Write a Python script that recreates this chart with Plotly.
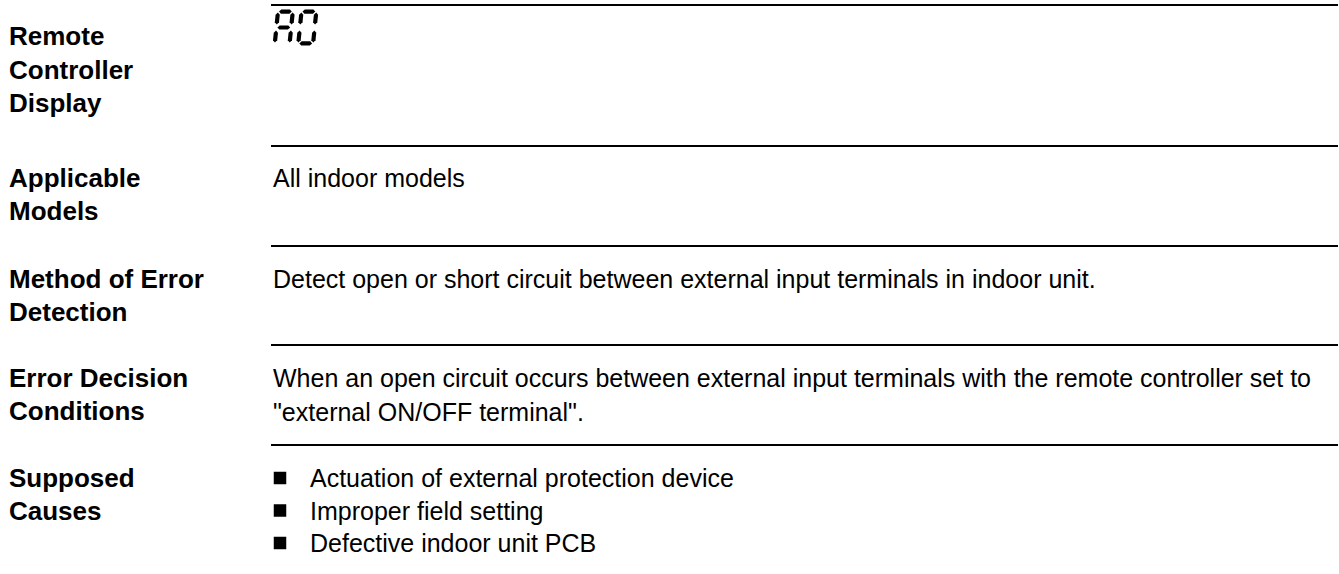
import plotly.graph_objects as go

# ---- content ----
row_labels = [
    ["Remote", "Controller", "Display"],
    ["Applicable", "Models"],
    ["Method of Error", "Detection"],
    ["Error Decision", "Conditions"],
    ["Supposed", "Causes"],
]
applicable_models = ["All indoor models"]
detection_method = ["Detect open or short circuit between external input terminals in indoor unit."]
decision_conditions = [
    "When an open circuit occurs between external input terminals with the remote controller set to",
    "\"external ON/OFF terminal\".",
]
supposed_causes = [
    "Actuation of external protection device",
    "Improper field setting",
    "Defective indoor unit PCB",
]
display_code = "A0"

# ---- layout constants (pixels) ----
W, H = 1339, 574
FS = 25
FS_BOLD = 26
LH = 33.5
FONT = "Arial, 'Liberation Sans', Helvetica, sans-serif"
label_x = 8
content_x = 272
rule_x0, rule_x1 = 271, 1338
rules_y = [5, 146, 246, 345, 445]
row_first_baseline = [45.5, 187, 288, 387, 487]

fig = go.Figure()
annotations = []
shapes = []


def put_text(x, baseline, text, bold=False):
    fs = FS_BOLD if bold else FS
    annotations.append(dict(
        x=x, y=baseline - 0.3465 * fs, xref="x", yref="y",
        text=("<b>%s</b>" % text) if bold else text,
        showarrow=False, xanchor="left", yanchor="middle",
        font=dict(family=FONT, size=fs, color="#000000"),
        borderpad=0,
    ))


for i, lines in enumerate(row_labels):
    for j, line in enumerate(lines):
        put_text(label_x, row_first_baseline[i] + j * LH, line, bold=True)

for j, line in enumerate(applicable_models):
    put_text(content_x, row_first_baseline[1] + j * LH, line)
for j, line in enumerate(detection_method):
    put_text(content_x, row_first_baseline[2] + j * LH, line)
for j, line in enumerate(decision_conditions):
    put_text(content_x, row_first_baseline[3] + j * LH, line)

bullet_text_x = 309
bx, by = [], []
for j, line in enumerate(supposed_causes):
    b = row_first_baseline[4] + j * 32.5
    put_text(bullet_text_x, b, line)
    bx.append(280)
    by.append(b - 9)

fig.add_trace(go.Scatter(
    x=bx, y=by, mode="markers",
    marker=dict(symbol="square", size=12.5, color="#000000", line=dict(width=0)),
    hoverinfo="skip", showlegend=False,
))

for y in rules_y:
    shapes.append(dict(type="line", xref="x", yref="y", x0=rule_x0, x1=rule_x1,
                       y0=y, y1=y, line=dict(color="#000000", width=2)))

# ---- seven-segment glyphs for the display code ----
SEGS = {
    "A": ["a", "b", "c", "e", "f", "g"],
    "0": ["a", "b", "c", "d", "e", "f"],
}


def seg_polys(x0, ybot, w, h, t, slant):
    g = 1.0
    hm = h / 2.0

    def P(u, v):
        return (x0 + u + slant * v, ybot - v)

    def hseg(v):
        return [P(g + t / 2, v), P(g + t, v + t / 2), P(w - g - t, v + t / 2),
                P(w - g - t / 2, v), P(w - g - t, v - t / 2), P(g + t, v - t / 2)]

    def vseg(u, v0, v1):
        return [P(u, v0 + g + t / 2), P(u + t / 2, v0 + g + t), P(u + t / 2, v1 - g - t),
                P(u, v1 - g - t / 2), P(u - t / 2, v1 - g - t), P(u - t / 2, v0 + g + t)]

    return {
        "a": hseg(h - t / 2),
        "g": hseg(hm),
        "d": hseg(t / 2),
        "f": vseg(t / 2, hm, h),
        "b": vseg(w - t / 2, hm, h),
        "e": vseg(t / 2, 0, hm),
        "c": vseg(w - t / 2, 0, hm),
    }


digit_x = [272.5, 296]
for ch, dx in zip(display_code, digit_x):
    polys = seg_polys(dx, 45.5, 19, 36, 4.2, 0.1)
    for s in SEGS[ch]:
        pts = polys[s]
        path = "M " + " L ".join("%.2f,%.2f" % p for p in pts) + " Z"
        shapes.append(dict(type="path", xref="x", yref="y", path=path,
                           fillcolor="#000000", line=dict(width=0)))

fig.update_layout(
    width=W, height=H,
    margin=dict(l=0, r=0, t=0, b=0),
    paper_bgcolor="#ffffff", plot_bgcolor="#ffffff",
    xaxis=dict(range=[0, W], visible=False, fixedrange=True),
    yaxis=dict(range=[H, 0], visible=False, fixedrange=True),
    annotations=annotations, shapes=shapes,
    showlegend=False,
)

fig.write_html("out.html", config={"displayModeBar": False},
               post_script="document.body.style.margin='0';document.body.style.overflow='hidden';")
